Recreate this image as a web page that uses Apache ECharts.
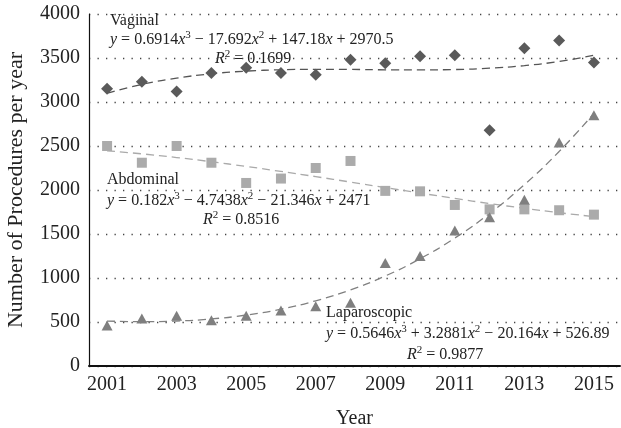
<!DOCTYPE html>
<html>
<head>
<meta charset="utf-8">
<script src="https://cdn.jsdelivr.net/npm/echarts@6/dist/echarts.min.js"></script>
<style>
  html, body { margin: 0; padding: 0; background: #fff; }
  #chart { width: 621px; height: 428px; }
</style>
</head>
<body>
<div id="chart"></div>
<script>
// years on the x axis
const years = [2001, 2002, 2003, 2004, 2005, 2006, 2007, 2008, 2009, 2010, 2011, 2012, 2013, 2014, 2015]
const tickYears = [2001, 2003, 2005, 2007, 2009, 2011, 2013, 2015]

// procedures per year
const vaginal = [3150, 3230, 3120, 3330, 3390, 3330, 3310, 3480, 3440, 3520, 3530, 2680, 3610, 3700, 3450]
const abdominal = [2500, 2310, 2500, 2310, 2080, 2130, 2250, 2330, 1990, 1985, 1830, 1780, 1780, 1770, 1720]
const laparoscopic = [460, 540, 570, 520, 570, 630, 680, 720, 1170, 1250, 1540, 1690, 1890, 2540, 2850]

// cubic trend lines as printed on the chart, taken at each year
const vaginalTrend = [3101, 3200, 3271, 3320, 3351, 3366, 3371, 3370, 3366, 3365, 3369, 3384, 3413, 3461, 3531]
const abdominalTrend = [2445, 2411, 2369, 2321, 2268, 2211, 2152, 2090, 2027, 1965, 1904, 1846, 1792, 1742, 1698]
const laparoscopicTrend = [511, 504, 511, 535, 579, 646, 741, 865, 1023, 1219, 1454, 1734, 2061, 2438, 2870]

const pairs = (ys) => years.map((x, i) => [x, ys[i]])

const font = 'Liberation Serif'
const rich = {
  i: { fontStyle: 'italic', fontFamily: font, fontSize: 16, color: '#222' },
  sup: { fontFamily: font, fontSize: 11, color: '#222', verticalAlign: 'top', lineHeight: 20 }
}

function note(left, top, text) {
  return {
    type: 'text',
    left: left,
    top: top,
    style: {
      text: text,
      fontFamily: font,
      fontSize: 16,
      fill: '#222',
      rich: rich
    }
  }
}

const chart = echarts.init(document.getElementById('chart'))

const option = {
  animation: false,
  textStyle: { fontFamily: font },
  grid: { left: 89, right: 1, top: 14, bottom: 62, outerBoundsMode: 'none', containLabel: false },
  xAxis: {
    type: 'value',
    min: 2000.48,
    max: 2015.75,
    name: 'Year',
    nameLocation: 'middle',
    nameGap: 43,
    nameTextStyle: { fontFamily: font, fontSize: 20, color: '#222' },
    axisLine: { lineStyle: { color: '#111', width: 2 } },
    axisTick: { show: false },
    splitLine: { show: false },
    axisLabel: {
      customValues: tickYears,
      fontFamily: font,
      fontSize: 20,
      color: '#222',
      margin: 9,
      formatter: (v) => String(v)
    }
  },
  yAxis: {
    type: 'value',
    min: 0,
    max: 4000,
    interval: 500,
    name: 'Number of Procedures per year',
    nameLocation: 'middle',
    nameGap: 62,
    nameTextStyle: { fontFamily: font, fontSize: 22, color: '#222' },
    axisLine: { show: true, lineStyle: { color: '#111', width: 1.2 } },
    axisTick: { show: false },
    axisLabel: { fontFamily: font, fontSize: 20, color: '#222', margin: 9, formatter: (v) => String(v) },
    splitLine: { show: true, lineStyle: { color: '#444', width: 1.3, type: [1.3, 7.2] } }
  },
  series: [
    {
      name: 'Vaginal trend', type: 'line', data: pairs(vaginalTrend), smooth: true,
      symbol: 'none', z: 2,
      lineStyle: { color: '#555', width: 1.3, type: [8, 5] }
    },
    {
      name: 'Abdominal trend', type: 'line', data: pairs(abdominalTrend), smooth: true,
      symbol: 'none', z: 2,
      lineStyle: { color: '#aaa', width: 1.3, type: [8, 5] }
    },
    {
      name: 'Laparoscopic trend', type: 'line', data: pairs(laparoscopicTrend), smooth: true,
      symbol: 'none', z: 2,
      lineStyle: { color: '#808080', width: 1.3, type: [8, 5] }
    },
    {
      name: 'Vaginal', type: 'scatter', data: pairs(vaginal), symbol: 'diamond',
      symbolSize: [12, 12], z: 3, itemStyle: { color: '#5a5a5a', opacity: 1 }
    },
    {
      name: 'Abdominal', type: 'scatter', data: pairs(abdominal), symbol: 'rect',
      symbolSize: 10, z: 3, itemStyle: { color: '#ababab', opacity: 1 }
    },
    {
      name: 'Laparoscopic', type: 'scatter', data: pairs(laparoscopic), symbol: 'triangle',
      symbolSize: [11, 10], z: 3, itemStyle: { color: '#7f7f7f', opacity: 1 }
    }
  ],
  graphic: [
    note(110, 13, 'Vaginal'),
    note(110, 30, '{i|y} = 0.6914{i|x}{sup|3} − 17.692{i|x}{sup|2} + 147.18{i|x} + 2970.5'),
    note(215, 49, '{i|R}{sup|2} = 0.1699'),
    note(107, 172, 'Abdominal'),
    note(107, 191, '{i|y} = 0.182{i|x}{sup|3} − 4.7438{i|x}{sup|2} − 21.346{i|x} + 2471'),
    note(203, 210, '{i|R}{sup|2} = 0.8516'),
    note(326, 305, 'Laparoscopic'),
    note(326, 324, '{i|y} = 0.5646{i|x}{sup|3} + 3.2881{i|x}{sup|2} − 20.164{i|x} + 526.89'),
    note(407, 345, '{i|R}{sup|2} = 0.9877')
  ]
}

chart.setOption(option)
</script>
</body>
</html>
